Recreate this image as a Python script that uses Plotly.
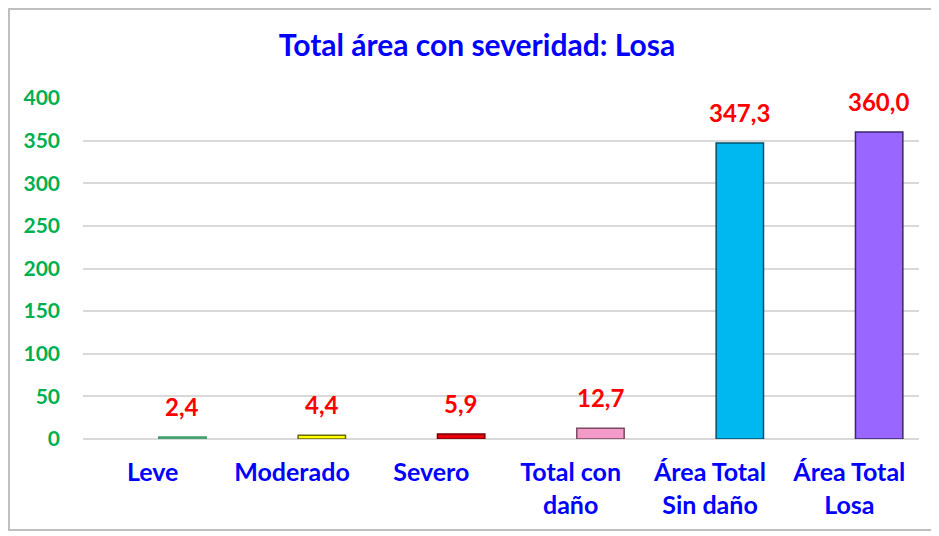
import plotly.graph_objects as go

categories = ["Leve", "Moderado", "Severo", "Total con<br>daño", "Área Total<br>Sin daño", "Área Total<br>Losa"]
values = [2.4, 4.4, 5.9, 12.7, 347.3, 360.0]
bar_colors = ["#5BBF8A", "#FFFF00", "#E8000B", "#F49AC8", "#00B8F0", "#9966FF"]
edge_colors = ["#3E9A68", "#6B6B00", "#7A0000", "#7A4A60", "#00506E", "#3A2670"]
y_ticks = [0, 50, 100, 150, 200, 250, 300, 350, 400]
labels = [f"{v:.1f}".replace(".", ",") for v in values]

# page body has an 8px margin, so the figure is sized to fill the rest of the window
W, H = 931, 528
ml, mr, mt, mb = 75, 20, 90, 97

fig = go.Figure()
fig.add_trace(go.Bar(
    x=categories, y=values,
    marker=dict(color=bar_colors, line=dict(color=edge_colors, width=1.5)),
    width=0.34, offset=0.044,
    hoverinfo="skip",
))

for c, v, t in zip(categories, values, labels):
    fig.add_annotation(
        x=c, y=v, text=t, showarrow=False, xref="x", yref="y",
        xshift=29.6, yshift=14, yanchor="bottom",
        font=dict(family="Lato, Open Sans, sans-serif", size=24, color="#FF0000", weight="bold"),
    )

pw = W - ml - mr
ph = H - mt - mb
fig.add_shape(
    type="rect", xref="paper", yref="paper",
    x0=(1 - ml) / pw, x1=(926 - ml) / pw,
    y0=(H - mb - 522) / ph, y1=(H - mb - 1) / ph,
    line=dict(color="#BFBFBF", width=2), fillcolor="rgba(0,0,0,0)", layer="below",
)

fig.update_layout(
    width=W, height=H,
    margin=dict(l=ml, r=mr, t=mt, b=mb),
    paper_bgcolor="white", plot_bgcolor="white",
    showlegend=False,
    title=dict(
        text="<b>Total área con severidad: Losa</b>",
        x=469 / W, xanchor="center", y=1 - 37 / H, yanchor="middle",
        font=dict(family="Lato, Open Sans, sans-serif", size=30, color="#0000FF"),
    ),
    xaxis=dict(
        showgrid=False, showline=False, zeroline=False,
        tickfont=dict(family="Lato, Open Sans, sans-serif", size=25, color="#0000FF", weight="bold"),
        ticks="", ticklabelstandoff=16,
    ),
    yaxis=dict(
        range=[0, 400], tickvals=y_ticks,
        showgrid=True, gridcolor="#D9D9D9", gridwidth=1.5,
        zeroline=True, zerolinecolor="#D9D9D9", zerolinewidth=1.5,
        showline=False, ticks="",
        tickfont=dict(family="Lato, Open Sans, sans-serif", size=21, color="#00B050", weight="bold"),
        ticklabelstandoff=22,
    ),
)

fig.write_html("out.html")
